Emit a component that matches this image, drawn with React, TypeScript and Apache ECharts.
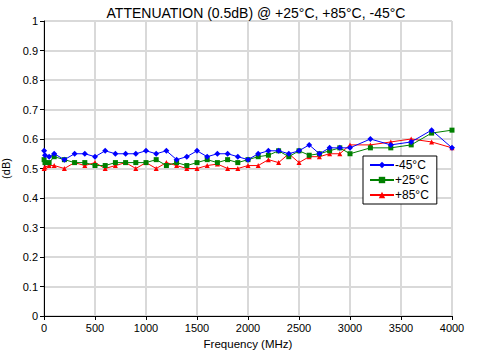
import React, { useEffect, useRef } from "react";
import * as echarts from "echarts";

const freqs = [1, 10, 50, 100, 200, 300, 400, 500, 600, 700, 800, 900, 1000, 1100, 1200, 1300, 1400, 1500, 1600, 1700, 1800, 1900, 2000, 2100, 2200, 2300, 2400, 2500, 2600, 2700, 2800, 2900, 3000, 3200, 3400, 3600, 3800, 4000];

const minus45 = [0.56, 0.545, 0.54, 0.55, 0.53, 0.55, 0.55, 0.54, 0.56, 0.55, 0.55, 0.55, 0.56, 0.55, 0.56, 0.53, 0.54, 0.56, 0.54, 0.55, 0.55, 0.54, 0.53, 0.55, 0.56, 0.56, 0.55, 0.56, 0.58, 0.55, 0.57, 0.57, 0.57, 0.6, 0.58, 0.59, 0.63, 0.57];

const plus25 = [0.53, 0.52, 0.52, 0.54, 0.53, 0.52, 0.52, 0.51, 0.51, 0.52, 0.52, 0.52, 0.52, 0.53, 0.51, 0.52, 0.51, 0.52, 0.53, 0.52, 0.53, 0.52, 0.53, 0.54, 0.545, 0.56, 0.54, 0.56, 0.545, 0.55, 0.56, 0.57, 0.55, 0.57, 0.57, 0.58, 0.62, 0.63];

const plus85 = [0.5, 0.505, 0.51, 0.51, 0.5, 0.52, 0.51, 0.52, 0.5, 0.51, 0.52, 0.5, 0.52, 0.5, 0.52, 0.51, 0.5, 0.5, 0.51, 0.515, 0.5, 0.5, 0.51, 0.51, 0.53, 0.52, 0.55, 0.52, 0.54, 0.54, 0.55, 0.55, 0.58, 0.58, 0.59, 0.6, 0.59, 0.57];

const seriesNames = ["-45°C", "+25°C", "+85°C"];
const seriesColors = ["#0000ff", "#008000", "#ff0000"];
const seriesSymbols = ["diamond", "rect", "triangle"];

const FONT = "Liberation Sans, Arial, sans-serif";

export default function App() {
  const ref = useRef<HTMLDivElement>(null);
  useEffect(() => {
    if (!ref.current) return;
    const chart = echarts.init(ref.current, undefined, { renderer: "svg" });
    const dataSets = [minus45, plus25, plus85];
    chart.setOption({
      animation: false,
      backgroundColor: "#ffffff",
      textStyle: { fontFamily: FONT, color: "#000" },
      title: {
        text: "ATTENUATION (0.5dB) @ +25°C, +85°C, -45°C",
        left: 251,
        textAlign: "center",
        top: 1,
        textStyle: { fontFamily: FONT, fontSize: 14, fontWeight: "normal", color: "#000" },
      },
      legend: {
        orient: "vertical",
        left: 363,
        top: 156,
        width: 68,
        backgroundColor: "#fff",
        borderColor: "#000",
        borderWidth: 1,
        borderRadius: 0,
        padding: [3, 8, 3, 6],
        itemGap: 3,
        itemWidth: 24,
        itemHeight: 8,
        textStyle: { fontFamily: FONT, fontSize: 12, color: "#000", padding: [0, 0, 0, -4] },
        data: seriesNames,
      },
      grid: { left: 44, right: 26, top: 21, bottom: 37, containLabel: false, outerBoundsMode: "none" },
      xAxis: {
        type: "value",
        min: 0,
        max: 4000,
        interval: 500,
        name: "Frequency (MHz)",
        nameLocation: "middle",
        nameGap: 22,
        nameTextStyle: { fontFamily: FONT, fontSize: 11.5, color: "#000" },
        axisLine: { show: true, onZero: false, lineStyle: { color: "#000", width: 1 } },
        axisTick: { show: true, length: 4, lineStyle: { color: "#000" } },
        axisLabel: { fontFamily: FONT, fontSize: 11, color: "#000", margin: 6, formatter: (v: number) => String(v) },
        splitLine: { show: true, lineStyle: { color: "#d9d9d9", width: 2 } },
      },
      yAxis: {
        type: "value",
        min: 0,
        max: 1,
        interval: 0.1,
        name: "(dB)",
        nameLocation: "middle",
        nameGap: 27,
        nameRotate: 90,
        nameTextStyle: { fontFamily: FONT, fontSize: 11, color: "#000" },
        axisLine: { show: true, lineStyle: { color: "#000", width: 1 } },
        axisTick: { show: true, length: 4, lineStyle: { color: "#000" } },
        axisLabel: { fontFamily: FONT, fontSize: 11, color: "#000", margin: 6, formatter: (v: number) => String(Math.round(v * 10) / 10) },
        splitLine: { show: true, lineStyle: { color: "#d9d9d9", width: 2 } },
      },
      series: seriesNames.map((name, i) => ({
        name,
        type: "line",
        data: freqs.map((f, j) => [f, dataSets[i][j]]),
        symbol: seriesSymbols[i],
        symbolSize: i === 0 ? 6 : 5,
        showSymbol: true,
        lineStyle: { color: seriesColors[i], width: 1 },
        itemStyle: { color: seriesColors[i] },
        z: 3 - i,
      })),
    });
    return () => chart.dispose();
  }, []);
  return <div ref={ref} style={{ width: 478, height: 353, position: "absolute", left: 0, top: 0 }} />;
}
